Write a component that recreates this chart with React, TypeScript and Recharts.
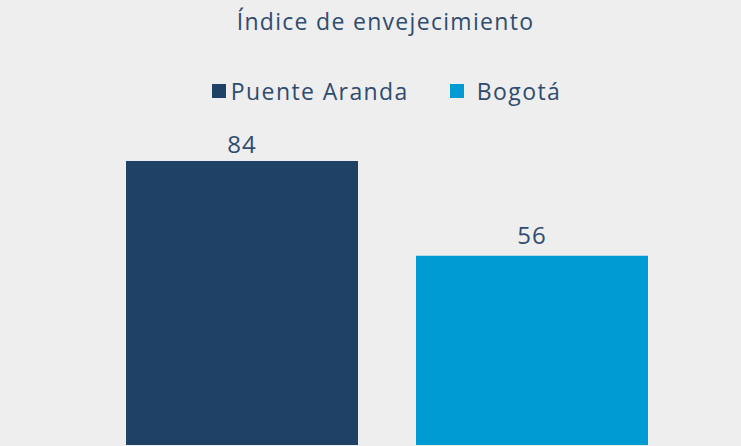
import { Bar, BarChart, LabelList, Legend, XAxis, YAxis } from "recharts";

const categories = ["Índice de envejecimiento"];
const seriesNames = ["Puente Aranda", "Bogotá"];
const puenteAranda = [84];
const bogota = [56];

const data = categories.map((name, i) => ({
  name,
  puente: puenteAranda[i],
  bogota: bogota[i],
}));

const NAVY = "#1f4166";
const BLUE = "#009bd2";
const TEXT = "#2f4c6e";
const FONT = "'Open Sans', sans-serif";

const legendItems = [
  { label: seriesNames[0], color: NAVY, gap: 5 },
  { label: seriesNames[1], color: BLUE, gap: 13 },
];

const renderLegend = () => (
  <div
    style={{
      display: "flex",
      justifyContent: "center",
      alignItems: "center",
      fontFamily: FONT,
      fontSize: 23,
      color: TEXT,
      paddingLeft: 32,
    }}
  >
    {legendItems.map((item, i) => (
      <div
        key={item.label}
        style={{ display: "flex", alignItems: "center", marginLeft: i === 0 ? 0 : 41 }}
      >
        <span
          style={{
            width: 14,
            height: 14,
            background: item.color,
            marginRight: item.gap,
            display: "inline-block",
          }}
        />
        <span style={{ letterSpacing: 1.4 }}>{item.label}</span>
      </div>
    ))}
  </div>
);

export default function App() {
  return (
    <div
      style={{
        position: "fixed",
        left: 0,
        top: 0,
        width: 741,
        height: 446,
        background: "#eeeeee",
        overflow: "hidden",
      }}
    >
      <div
        style={{
          position: "absolute",
          top: 5,
          left: 15,
          width: 741,
          textAlign: "center",
          fontFamily: FONT,
          fontSize: 23,
          color: TEXT,
          letterSpacing: 1.3,
        }}
      >
        {categories[0]}
      </div>
      <BarChart
        width={741}
        height={446}
        data={data}
        margin={{ top: 107, right: 19, left: 51, bottom: 1 }}
        barGap={58}
      >
        <XAxis dataKey="name" hide />
        <YAxis hide domain={[0, 100]} />
        <Legend
          verticalAlign="middle"
          layout="horizontal"
          content={renderLegend}
          wrapperStyle={{ top: 75, left: 0, width: 741 }}
        />
        <Bar dataKey="puente" name={seriesNames[0]} fill={NAVY} barSize={232} isAnimationActive={false}>
          <LabelList dataKey="puente" position="top" offset={8} fill={TEXT} fontSize={24} fontFamily={FONT} letterSpacing={1} />
        </Bar>
        <Bar dataKey="bogota" name={seriesNames[1]} fill={BLUE} barSize={232} isAnimationActive={false}>
          <LabelList dataKey="bogota" position="top" offset={12} fill={TEXT} fontSize={24} fontFamily={FONT} letterSpacing={1} />
        </Bar>
      </BarChart>
    </div>
  );
}
